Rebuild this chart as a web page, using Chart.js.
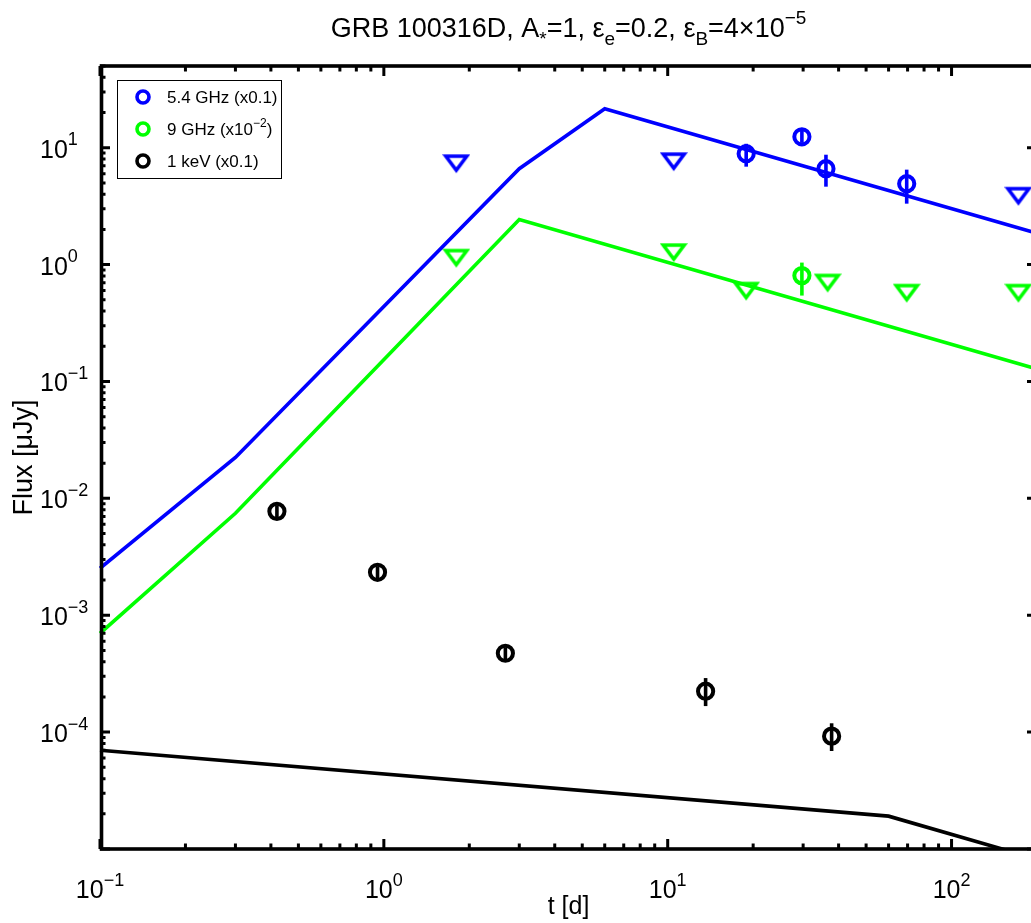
<!DOCTYPE html>
<html><head><meta charset="utf-8">
<script src="https://cdn.jsdelivr.net/npm/chart.js@4.4.1/dist/chart.umd.min.js"></script>
<style>html,body{margin:0;padding:0;background:#fff;overflow:hidden}#wrap{width:1031px;height:923px;position:relative;overflow:hidden}</style>
</head><body><div id="wrap"><canvas id="c" width="1040" height="923"></canvas></div>
<script>
// ---- model curves ----
const blueModelT = [0.1, 0.3, 3, 6, 200];
const blueModelF = [2.52e-3, 0.0224, 6.61, 21.5, 1.85];
const greenModelT = [0.1, 0.3, 3, 200];
const greenModelF = [7.0e-4, 7.45e-3, 2.43, 0.128];
const blackModelT = [0.1, 60, 200];
const blackModelF = [7.0e-5, 1.91e-5, 8.2e-6];

// ---- 5.4 GHz (x0.1) ----
const blueDetT = [18.9, 29.7, 36.1, 69.5];
const blueDetF = [8.89, 12.4, 6.61, 4.92];
const blueDetLo = [6.88, 11.0, 4.64, 3.32];
const blueDetHi = [10.8, 13.9, 8.71, 6.49];
const blueUlT = [1.8, 10.5, 172];
const blueUlF = [7.23, 7.52, 3.81];

// ---- 9 GHz (x1e-2) ----
const greenDetT = [29.7];
const greenDetF = [0.805];
const greenDetLo = [0.543];
const greenDetHi = [1.04];
const greenUlT = [1.8, 10.5, 18.9, 36.6, 69.5, 172];
const greenUlF = [1.125, 1.254, 0.588, 0.689, 0.565, 0.565];

// ---- 1 keV (x0.1) ----
const blackDetT = [0.42, 0.95, 2.68, 13.6, 37.8];
const blackDetF = [7.74e-3, 2.33e-3, 4.73e-4, 2.24e-4, 9.24e-5];
const blackDetLo = [6.88e-3, 2.07e-3, 4.20e-4, 1.67e-4, 6.89e-5];
const blackDetHi = [8.71e-3, 2.62e-3, 5.32e-4, 2.90e-4, 1.19e-4];

// ---- axes ----
const xMin = 0.1, xMax = 200;
const yMin = 1e-5, yMax = 50;
const xTickExps = [-1, 0, 1, 2];
const yTickExps = [-4, -3, -2, -1, 0, 1];
const legendLabels = [
  [['5.4 GHz (x0.1)', 0]],
  [['9 GHz (x10', 0], ['\u22122', 1], [')', 0]],
  [['1 keV (x0.1)', 0]]
];

const BLUE = '#0000ff', GREEN = '#00ff00', BLACK = '#000000';
const FONT = "'Liberation Sans', Arial, Helvetica, sans-serif";

function pts(t, f) { return t.map((v, i) => ({x: v, y: f[i]})); }
function triImg(color) {
  const c = document.createElement('canvas');
  c.width = 28; c.height = 24;
  const g = c.getContext('2d');
  g.strokeStyle = color; g.lineWidth = 3.6; g.lineJoin = 'miter';
  g.beginPath(); g.moveTo(3.5, 4); g.lineTo(24.5, 4); g.lineTo(14, 18); g.closePath(); g.stroke();
  return c;
}
function lineDS(t, f, color) {
  return {data: pts(t, f), borderColor: color, borderWidth: 3.6, pointRadius: 0, fill: false, tension: 0, clip: 1};
}
function detDS(t, f, lo, hi, color) {
  return {data: pts(t, f), showLine: false, pointStyle: 'circle', pointRadius: 7.6, pointBorderWidth: 4,
    pointBorderColor: color, pointBackgroundColor: 'rgba(0,0,0,0)', errLo: lo, errHi: hi, errColor: color};
}
function ulDS(t, f, color) {
  return {data: pts(t, f), showLine: false, pointStyle: triImg(color), pointRadius: 10,
    pointBorderColor: color, pointBackgroundColor: 'rgba(0,0,0,0)'};
}

const errPlugin = {
  id: 'err',
  afterDatasetsDraw(chart) {
    const c = chart.ctx, xs = chart.scales.x, ys = chart.scales.y;
    chart.data.datasets.forEach(ds => {
      if (!ds.errLo) return;
      c.save(); c.strokeStyle = ds.errColor; c.lineWidth = 3.6; c.lineCap = 'butt';
      ds.data.forEach((p, i) => {
        const x = xs.getPixelForValue(p.x);
        c.beginPath(); c.moveTo(x, ys.getPixelForValue(ds.errLo[i])); c.lineTo(x, ys.getPixelForValue(ds.errHi[i])); c.stroke();
      });
      c.restore();
    });
  }
};

function drawRich(c, segs, x, y, size, align) {
  const fs = m => m === 0 ? size : Math.round(size * 0.7);
  let w = 0;
  segs.forEach(s => { c.font = fs(s[1]) + 'px ' + FONT; w += c.measureText(s[0]).width; });
  let cx = align === 'center' ? x - w / 2 : (align === 'right' ? x - w : x);
  c.textAlign = 'left'; c.textBaseline = 'alphabetic';
  segs.forEach(s => {
    c.font = fs(s[1]) + 'px ' + FONT;
    const dy = s[1] === 1 ? -size * 0.5 : (s[1] === -1 ? size * 0.3 : 0);
    c.fillText(s[0], cx, y + dy);
    cx += c.measureText(s[0]).width;
  });
  return w;
}
function expStr(k) { return k < 0 ? '\u2212' + (-k) : String(k); }

const framePlugin = {
  id: 'frame',
  afterDraw(chart) {
    const c = chart.ctx, a = chart.chartArea, xs = chart.scales.x, ys = chart.scales.y;
    c.save();
    c.fillStyle = '#000'; c.strokeStyle = '#000';
    c.lineWidth = 3; c.lineCap = 'butt';
    const MAJ = 10, MIN = 5.5;
    for (let k = -1; k <= 2; k++) for (let m = 1; m <= 9; m++) {
      const v = m * Math.pow(10, k); if (v < xMin || v > xMax) continue;
      const px = xs.getPixelForValue(v), L = m === 1 ? MAJ : MIN;
      c.beginPath(); c.moveTo(px, a.bottom); c.lineTo(px, a.bottom - L); c.moveTo(px, a.top); c.lineTo(px, a.top + L); c.stroke();
    }
    for (let k = -5; k <= 1; k++) for (let m = 1; m <= 9; m++) {
      const v = m * Math.pow(10, k); if (v < yMin * 0.999 || v > yMax) continue;
      const py = ys.getPixelForValue(v), L = m === 1 ? MAJ : MIN;
      c.beginPath(); c.moveTo(a.left, py); c.lineTo(a.left + L, py); c.moveTo(a.right, py); c.lineTo(a.right - L, py); c.stroke();
    }
    c.lineWidth = 3.6;
    c.strokeRect(a.left + 1.5, a.top, a.right - a.left - 1.5, a.bottom - a.top);
    xTickExps.forEach(k => {
      const px = xs.getPixelForValue(Math.pow(10, k));
      drawRich(c, [['10', 0], [expStr(k), 1]], px, 898, 25, 'center');
    });
    yTickExps.forEach(k => {
      const py = ys.getPixelForValue(Math.pow(10, k));
      drawRich(c, [['10', 0], [expStr(k), 1]], 40, py + 10, 25, 'left');
    });
    c.textAlign = 'center'; c.textBaseline = 'alphabetic';
    c.font = '25px ' + FONT;
    c.fillText('t [d]', (a.left + a.right) / 2, 914);
    c.font = '27px ' + FONT;
    c.save(); c.translate(32, (a.top + a.bottom) / 2); c.rotate(-Math.PI / 2);
    c.fillText('Flux [\u03bcJy]', 0, 0); c.restore();
    drawRich(c, [['GRB 100316D, A', 0], ['*', -1], ['=1, \u03b5', 0], ['e', -1], ['=0.2, \u03b5', 0], ['B', -1], ['=4\u00d710', 0], ['\u22125', 1]],
      (a.left + a.right) / 2, 37, 27, 'center');
    c.lineWidth = 1; c.fillStyle = '#fff';
    c.fillRect(117.5, 80.5, 164, 98); c.strokeRect(117.5, 80.5, 164, 98);
    const cols = [BLUE, GREEN, BLACK];
    legendLabels.forEach((lab, i) => {
      const y = 97 + i * 32;
      c.strokeStyle = cols[i]; c.lineWidth = 3.6;
      c.beginPath(); c.arc(143, y, 6, 0, Math.PI * 2); c.stroke();
      c.fillStyle = '#000';
      drawRich(c, lab, 167, y + 6, 17, 'left');
    });
    c.restore();
  }
};

Chart.defaults.font.family = FONT;
new Chart(document.getElementById('c'), {
  type: 'line',
  data: {
    datasets: [
      lineDS(blueModelT, blueModelF, BLUE),
      lineDS(greenModelT, greenModelF, GREEN),
      lineDS(blackModelT, blackModelF, BLACK),
      detDS(blueDetT, blueDetF, blueDetLo, blueDetHi, BLUE),
      ulDS(blueUlT, blueUlF, BLUE),
      detDS(greenDetT, greenDetF, greenDetLo, greenDetHi, GREEN),
      ulDS(greenUlT, greenUlF, GREEN),
      detDS(blackDetT, blackDetF, blackDetLo, blackDetHi, BLACK)
    ]
  },
  options: {
    responsive: false, animation: false, devicePixelRatio: 1,
    layout: {autoPadding: false, padding: {top: 66, left: 0, right: 3, bottom: 0}},
    plugins: {legend: {display: false}, tooltip: {enabled: false}, title: {display: false}},
    scales: {
      x: {type: 'logarithmic', min: xMin, max: xMax, bounds: 'data', position: 'bottom',
        grid: {display: false}, border: {display: false}, ticks: {display: false},
        afterFit(s) { s.height = 74; }},
      y: {type: 'logarithmic', min: yMin, max: yMax, bounds: 'data', position: 'left',
        grid: {display: false}, border: {display: false}, ticks: {display: false},
        afterFit(s) { s.width = 100; }}
    }
  },
  plugins: [errPlugin, framePlugin]
});
</script></body></html>
